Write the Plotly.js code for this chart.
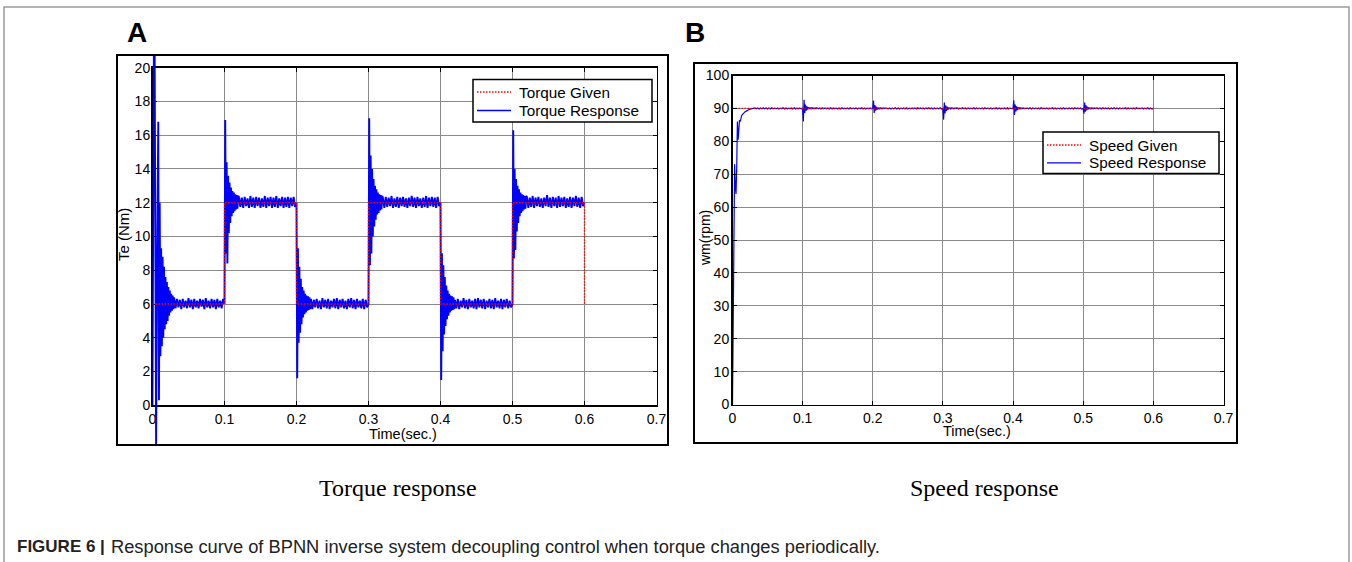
<!DOCTYPE html>
<html>
<head>
<meta charset="utf-8">
<script src="https://cdn.plot.ly/plotly-3.0.1.min.js"></script>
<style>html,body{margin:0;padding:0;background:#fff;}#chart{width:1352px;height:562px;}</style>
</head>
<body>
<div id="chart"></div>
<script>
// ---------------- DATA ----------------
// Panel A: torque (Nm). Each segment: start time, sample step, values.
const torqueGivenTime = [0, 0.1, 0.1, 0.2, 0.2, 0.3, 0.3, 0.4, 0.4, 0.5, 0.5, 0.6, 0.6];
const torqueGiven     = [6, 6, 12, 12, 6, 6, 12, 12, 6, 6, 12, 12, 6];

const tqTrans0 = [0,22,24,21,9,-2.6,6,12,16.8,0.3,12,2.9,9.3,3.5,8.8,4.0,8.2,4.5,7.6,4.8,7.3,5.0,7.0,5.3,6.8,5.5,6.6,5.6,6.5,5.7];
const tqRipple0 = [6.4,5.75,6.3,5.8,6.25,5.7,6.3,5.8,6.2,5.75,6.35,5.8,6.25,5.7,6.3,5.8,6.2,5.75,6.3,5.85,6.25,5.7,6.35,5.8,6.2,5.75,6.3,5.8,6.25,5.7,6.3,5.8,6.2,5.75,6.3];
const tqTrans1 = [6,16.9,9.0,14.4,8.4,13.6,10.2,13.2,10.8,12.9,11.2,12.7,11.4,12.6,11.5,12.5,11.6,12.45,11.65,12.4];
const tqRipple1 = [12.35,11.75,12.3,11.7,12.35,11.8,12.25,11.7,12.4,11.75,12.3,11.7,12.35,11.8,12.3,11.7,12.25,11.75,12.4,11.7,12.3,11.8,12.35,11.7,12.3,11.75,12.4,11.7,12.25,11.8,12.35,11.7,12.3,11.75,12.35,11.7,12.3,11.8,12.35,11.75];
const tqTrans2 = [12,1.6,9.3,3.7,8.2,4.3,7.5,4.8,7.0,5.2,6.8,5.4,6.6,5.5,6.5,5.6,6.45,5.65,6.4,5.7];
const tqRipple2 = [6.3,5.7,6.25,5.8,6.3,5.75,6.2,5.7,6.35,5.8,6.25,5.75,6.3,5.7,6.2,5.8,6.3,5.75,6.35,5.7,6.25,5.8,6.3,5.75,6.2,5.7,6.3,5.8,6.35,5.75,6.25,5.7,6.3,5.8,6.2,5.75,6.3,5.7,6.25,5.8];
const tqTrans3 = [6,17.0,8.3,14.8,9.0,14.0,10.0,13.4,10.6,13.0,11.0,12.8,11.3,12.6,11.4,12.5,11.55,12.45,11.6,12.4];
const tqRipple3 = [12.3,11.7,12.35,11.75,12.3,11.8,12.4,11.7,12.25,11.75,12.35,11.7,12.3,11.8,12.35,11.75,12.25,11.7,12.3,11.8,12.4,11.75,12.3,11.7,12.35,11.8,12.25,11.7,12.3,11.75,12.4,11.7,12.3,11.8,12.35,11.75,12.3,11.7,12.35,11.8];
const tqTrans4 = [12,1.5,9.0,3.2,8.3,4.2,7.6,4.7,7.1,5.1,6.8,5.3,6.6,5.5,6.5,5.6,6.45,5.65,6.4,5.7];
const tqRipple4 = [6.25,5.75,6.3,5.7,6.2,5.8,6.35,5.75,6.25,5.7,6.3,5.8,6.2,5.75,6.3,5.7,6.35,5.8,6.25,5.75,6.3,5.7,6.2,5.8,6.3,5.75,6.25,5.7,6.35,5.8,6.2,5.75,6.3,5.7,6.25,5.8,6.3,5.75,6.2,5.8];
const tqTrans5 = [6,16.3,8.7,14.0,9.2,13.4,10.3,13.0,10.8,12.8,11.2,12.6,11.4,12.5,11.5,12.45,11.6,12.4,11.65,12.4];
const tqRipple5 = [12.35,11.7,12.3,11.75,12.4,11.7,12.3,11.8,12.35,11.75,12.25,11.7,12.3,11.8,12.45,11.75,12.3,11.7,12.35,11.8,12.3,11.7,12.4,11.75,12.3,11.8,12.35,11.7,12.25,11.75,12.35,11.7,12.3,11.8,12.4,11.75,12.3,11.7,12.35,11.8,12.0];

// Panel B: speed (rpm)
const speedGivenTime = [0, 0.6];
const speedGiven     = [90, 90];

const spTrans0 = [0,30,58,73,66,64,72,86,80.5,85,86.5,86,87.5,87.8,88.1,88.4,88.6,88.8,89.0,89.1,89.3,89.4,89.5,89.6,89.7,89.75,89.8,89.85,89.9,89.95,90];
const spRipple0 = [90.15,89.85,90.1,89.8,90.15,89.9,90.2,89.85,90.1,89.8,90.15,89.85,90.2,89.9,90.1,89.85,90.15,89.8,90.1,89.9,90.2,89.85,90.15,89.8,90.1,89.9,90.15,89.85,90.2,89.8,90.1,89.9,90.15,89.85];
const spTrans1 = [90,86.0,92.6,88.6,91.2,89.3,90.6,89.6,90.4,89.8,90.25,89.85,90.2,89.9,90.15,89.9,90.1,89.9,90.1,89.9];
const spRipple1 = [90.15,89.85,90.1,89.8,90.2,89.9,90.15,89.85,90.1,89.8,90.2,89.85,90.15,89.9,90.1,89.8,90.15,89.85,90.2,89.9,90.1,89.85,90.15,89.8,90.2,89.9,90.1,89.85,90.15,89.8,90.1,89.9,90.2,89.85,90.15,89.8,90.1,89.9,90.15,89.85];
const spTrans2 = [90,92.4,88.6,91.0,89.3,90.5,89.6,90.3,89.8,90.2,89.85,90.15,89.9,90.1,89.9,90.1,89.9,90.1,89.95,90.05];
const spRipple2 = [90.1,89.85,90.15,89.8,90.1,89.9,90.2,89.85,90.15,89.8,90.1,89.9,90.15,89.85,90.2,89.8,90.1,89.9,90.15,89.85,90.1,89.8,90.2,89.9,90.15,89.85,90.1,89.8,90.15,89.9,90.2,89.85,90.1,89.8,90.15,89.9,90.1,89.85,90.2,89.8];
const spTrans3 = [90,86.6,91.8,88.5,90.9,89.2,90.5,89.6,90.3,89.8,90.2,89.85,90.15,89.9,90.1,89.9,90.1,89.9,90.05,89.95];
const spRipple3 = [90.15,89.8,90.1,89.9,90.2,89.85,90.1,89.8,90.15,89.9,90.1,89.85,90.2,89.8,90.15,89.9,90.1,89.85,90.15,89.8,90.2,89.9,90.1,89.85,90.15,89.8,90.1,89.9,90.2,89.85,90.15,89.8,90.1,89.9,90.15,89.85,90.2,89.8,90.1,89.9];
const spTrans4 = [90,92.5,88.0,91.2,89.1,90.6,89.5,90.4,89.7,90.25,89.85,90.15,89.9,90.1,89.9,90.1,89.95,90.05,89.95,90.05];
const spRipple4 = [90.1,89.85,90.2,89.8,90.15,89.9,90.1,89.85,90.15,89.8,90.2,89.9,90.1,89.85,90.15,89.8,90.1,89.9,90.2,89.85,90.15,89.8,90.1,89.9,90.15,89.85,90.2,89.8,90.1,89.9,90.15,89.85,90.1,89.8,90.2,89.9,90.15,89.85,90.1,89.8];
const spTrans5 = [90,88.4,91.8,89.0,90.9,89.4,90.5,89.7,90.3,89.8,90.2,89.85,90.15,89.9,90.1,89.9,90.1,89.95,90.05,89.95];
const spRipple5 = [90.15,89.85,90.1,89.8,90.2,89.9,90.15,89.85,90.1,89.8,90.15,89.9,90.2,89.85,90.1,89.8,90.15,89.9,90.1,89.85,90.2,89.8,90.15,89.9,90.1,89.85,90.15,89.8,90.2,89.9,90.1,89.85,90.15,89.8,90.1,89.9,90.2,89.85,90.15,89.8,90.0];

const xTicks = [0,0.1,0.2,0.3,0.4,0.5,0.6,0.7];
const xTickText = ['0','0.1','0.2','0.3','0.4','0.5','0.6','0.7'];
const yTicksA = [0,2,4,6,8,10,12,14,16,18,20];
const yTicksB = [0,10,20,30,40,50,60,70,80,90,100];
const legendNamesA = ['Torque Given', 'Torque Response'];
const legendNamesB = ['Speed Given', 'Speed Response'];

// ---------------- BUILD ----------------
function build(segs){
  const x=[], y=[];
  segs.forEach(([t0, dt, vals]) => vals.forEach((v,i) => { x.push(+(t0 + i*dt).toFixed(4)); y.push(v); }));
  return {x, y};
}
const torqueResp = build([
  [0,0.001,tqTrans0],[0.030,0.002,tqRipple0],
  [0.1,0.001,tqTrans1],[0.120,0.002,tqRipple1],
  [0.2,0.001,tqTrans2],[0.220,0.002,tqRipple2],
  [0.3,0.001,tqTrans3],[0.320,0.002,tqRipple3],
  [0.4,0.001,tqTrans4],[0.420,0.002,tqRipple4],
  [0.5,0.001,tqTrans5],[0.520,0.002,tqRipple5]
]);
const speedResp = build([
  [0,0.001,spTrans0],[0.032,0.002,spRipple0],
  [0.1,0.001,spTrans1],[0.120,0.002,spRipple1],
  [0.2,0.001,spTrans2],[0.220,0.002,spRipple2],
  [0.3,0.001,spTrans3],[0.320,0.002,spRipple3],
  [0.4,0.001,spTrans4],[0.420,0.002,spRipple4],
  [0.5,0.001,spTrans5],[0.520,0.002,spRipple5]
]);

// ---------------- LAYOUT ----------------
const W = 1352, H = 562;
const px = v => v / W;
const py = v => 1 - v / H;

const A = {l:152.5, r:656.5, t:67.7, b:405.3};
const B = {l:732.5, r:1223.5, t:75.5, b:404.5};
const Aext = {t:56, b:444};
const scaleA = (A.b - A.t) / 20;
const extRange = [-(Aext.b - A.b) / scaleA, 20 + (A.t - Aext.t) / scaleA];

const FONT = 'Liberation Sans, Arial, Helvetica, sans-serif';
const RED = '#ff0000', BLUE = '#0000ff';
const DOT = '1.5px,1.5px';

function axisBase(extra){
  return Object.assign({
    showline:true, linecolor:'black', linewidth:1.5, mirror:'ticks',
    ticks:'inside', ticklen:4, tickwidth:1, tickcolor:'black',
    showgrid:true, gridcolor:'#8a8a8a', gridwidth:1, zeroline:false,
    tickfont:{family:FONT, size:14, color:'black'}, fixedrange:true
  }, extra);
}

const traces = [
  // invisible anchor so the panel-A axes are drawn
  {x:[0], y:[0], xaxis:'x', yaxis:'y', type:'scatter', mode:'markers', marker:{opacity:0}, showlegend:false, hoverinfo:'skip'},
  {x:torqueResp.x, y:torqueResp.y, xaxis:'x3', yaxis:'y3', type:'scatter', mode:'lines',
   name:legendNamesA[1], line:{color:BLUE, width:1.9}, showlegend:false},
  {x:torqueGivenTime, y:torqueGiven, xaxis:'x3', yaxis:'y3', type:'scatter', mode:'lines',
   name:legendNamesA[0], line:{color:RED, width:1.4, dash:DOT}, showlegend:false},
  {x:speedResp.x, y:speedResp.y, xaxis:'x2', yaxis:'y2', type:'scatter', mode:'lines',
   name:legendNamesB[1], line:{color:BLUE, width:1.2}, showlegend:false},
  {x:speedGivenTime, y:speedGiven, xaxis:'x2', yaxis:'y2', type:'scatter', mode:'lines',
   name:legendNamesB[0], line:{color:RED, width:1.4, dash:DOT}, showlegend:false}
];

const ann = (text, x, y, opts) => Object.assign({
  text, x:px(x), y:py(y), xref:'paper', yref:'paper', showarrow:false,
  xanchor:'center', yanchor:'middle', font:{family:FONT, size:14, color:'black'}
}, opts || {});

const shapes = [
  {type:'rect', xref:'paper', yref:'paper', x0:px(4), x1:px(1349), y0:py(580), y1:py(7),
   line:{color:'#9a9a9a', width:1.5}},
  {type:'rect', xref:'paper', yref:'paper', x0:px(117), x1:px(668), y0:py(445), y1:py(55),
   line:{color:'black', width:2}},
  {type:'rect', xref:'paper', yref:'paper', x0:px(694), x1:px(1237), y0:py(443), y1:py(63),
   line:{color:'black', width:2}}
];
const annotations = [
  ann('<b>A</b>', 137, 33, {font:{family:FONT, size:28, color:'black'}}),
  ann('<b>B</b>', 695, 33, {font:{family:FONT, size:28, color:'black'}}),
  ann('Te (Nm)', 124, 235, {textangle:-90, font:{family:FONT, size:15, color:'black'}}),
  ann('wm(rpm)', 705, 238, {textangle:-90, font:{family:FONT, size:14, color:'black'}}),
  ann('Time(sec.)', 403, 434, {font:{family:FONT, size:14.5, color:'black'}}),
  ann('Time(sec.)', 977, 431, {font:{family:FONT, size:14.5, color:'black'}}),
  ann('Torque response', 398, 488, {font:{family:'Liberation Serif, Times New Roman, serif', size:24, color:'black'}}),
  ann('Speed response', 984, 488, {font:{family:'Liberation Serif, Times New Roman, serif', size:24, color:'black'}}),
  ann('<b>FIGURE 6 |</b>', 15, 546, {xanchor:'left', font:{family:FONT, size:17, color:'#222'}}),
  ann('Response curve of BPNN inverse system decoupling control when torque changes periodically.',
      109, 546, {xanchor:'left', font:{family:FONT, size:18.3, color:'#222'}})
];

// hand-built legends (box, sample lines, labels)
function addLegend(box, names, styles){
  shapes.push({type:'rect', xref:'paper', yref:'paper', x0:px(box.l), x1:px(box.r), y0:py(box.b), y1:py(box.t),
               fillcolor:'white', line:{color:'black', width:1.5}, layer:'above'});
  names.forEach((nm, i) => {
    const yy = box.row0 + i * box.step;
    shapes.push({type:'line', xref:'paper', yref:'paper', x0:px(box.l+4), x1:px(box.l+38), y0:py(yy), y1:py(yy),
                 line:styles[i], layer:'above'});
    annotations.push(ann(nm, box.l + 44, yy, {xanchor:'left', font:{family:FONT, size:15.3, color:'black'}}));
  });
}
addLegend({l:473, r:652, t:79.5, b:122, row0:92, step:18.5}, legendNamesA,
          [{color:RED, width:1.3, dash:DOT}, {color:BLUE, width:1.3}]);
addLegend({l:1043, r:1219, t:132, b:173.5, row0:145, step:17.8}, legendNamesB,
          [{color:RED, width:1.3, dash:DOT}, {color:BLUE, width:1.3}]);

const layout = {
  width:W, height:H, margin:{l:0, r:0, t:0, b:0},
  paper_bgcolor:'white', plot_bgcolor:'rgba(0,0,0,0)',
  font:{family:FONT, size:14, color:'black'},
  showlegend:false,
  xaxis: axisBase({domain:[px(A.l), px(A.r)], range:[0,0.7], anchor:'y', tickvals:xTicks, ticktext:xTickText}),
  yaxis: axisBase({domain:[py(A.b), py(A.t)], range:[0,20], anchor:'x', tickvals:yTicksA, ticklabelstandoff:-2}),
  xaxis2: axisBase({domain:[px(B.l), px(B.r)], range:[0,0.7], anchor:'y2', tickvals:xTicks, ticktext:xTickText}),
  yaxis2: axisBase({domain:[py(B.b), py(B.t)], range:[0,100], anchor:'x2', tickvals:yTicksB, ticklabelstandoff:-1}),
  xaxis3: {domain:[px(A.l), px(A.r)], range:[0,0.7], anchor:'y3', visible:false, fixedrange:true},
  yaxis3: {domain:[py(Aext.b), py(Aext.t)], range:extRange, anchor:'x3', visible:false, fixedrange:true},
  shapes, annotations
};

Plotly.newPlot('chart', traces, layout, {staticPlot:true, displayModeBar:false});
</script>
</body>
</html>
